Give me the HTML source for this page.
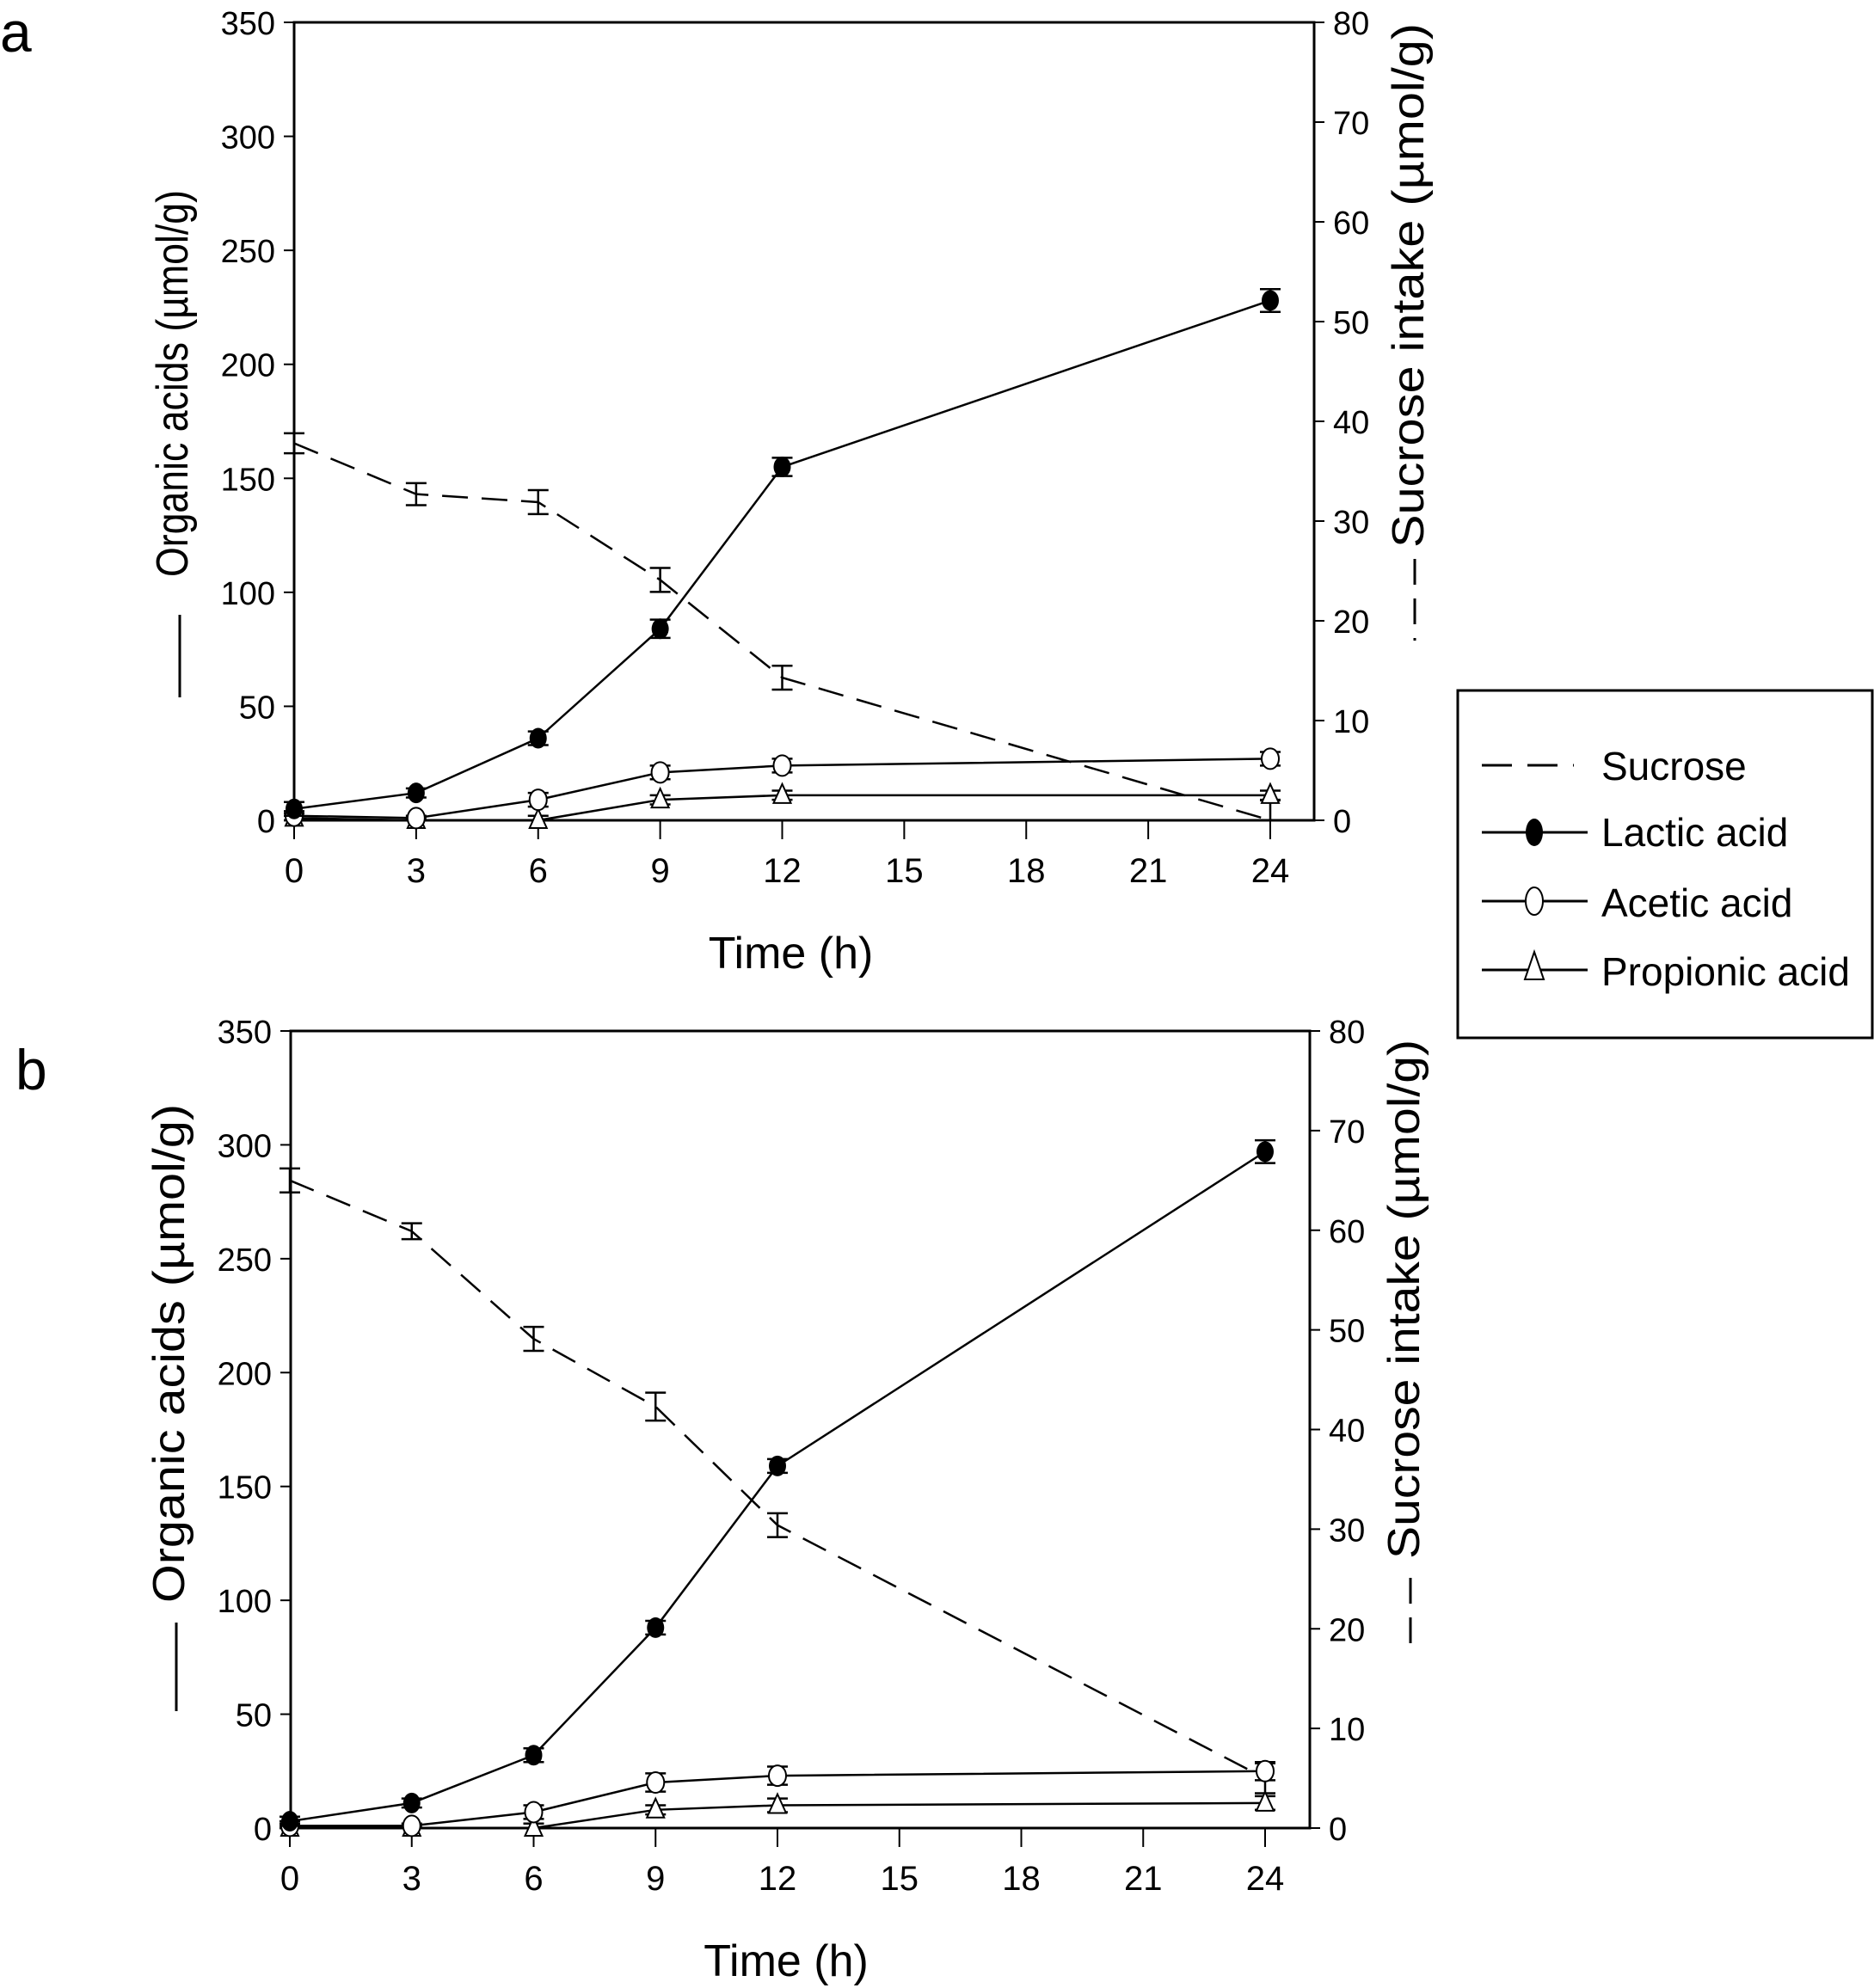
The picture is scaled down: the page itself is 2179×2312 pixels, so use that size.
<!DOCTYPE html>
<html><head><meta charset="utf-8"><style>
html,body{margin:0;padding:0;background:#fff;}
svg{display:block;font-family:"Liberation Sans",sans-serif;}
</style></head><body>
<svg id="fig" width="2179" height="2312" viewBox="0 0 2179 2312" xmlns="http://www.w3.org/2000/svg">
<text x="0" y="60" font-size="66">a</text>
<text x="18" y="1267" font-size="66">b</text>
<g id="legend">
<rect x="1695" y="803" width="482" height="404" fill="#fff" stroke="#000" stroke-width="3"/>
<g>
<line x1="1723" y1="890" x2="1830" y2="890" stroke="#000" stroke-width="3" stroke-dasharray="35,18"/>
<text x="1862" y="907" font-size="46">Sucrose</text></g>
<g>
<line x1="1723" y1="968" x2="1846" y2="968" stroke="#000" stroke-width="3"/>
<ellipse cx="1784" cy="968" rx="10" ry="16" fill="#000"/>
<text x="1862" y="984" font-size="46">Lactic acid</text></g>
<g>
<line x1="1723" y1="1048" x2="1846" y2="1048" stroke="#000" stroke-width="3"/>
<ellipse cx="1784" cy="1048" rx="10" ry="16" fill="#fff" stroke="#000" stroke-width="2"/>
<text x="1862" y="1066" font-size="46">Acetic acid</text></g>
<g>
<line x1="1723" y1="1128" x2="1846" y2="1128" stroke="#000" stroke-width="3"/>
<polygon points="1784,1107 1795,1139 1773,1139" fill="#fff" stroke="#000" stroke-width="2"/>
<text x="1862" y="1146" font-size="46">Propionic acid</text></g>
</g>
</svg>
<script>
// Panel a data
const timesA=[0,3,6,9,12,24];
const lacticA=[5,12,36,84,155,228];
const lacticErrA=[3,2,3,4,4,5];
const aceticA=[2,1,9,21,24,27];
const aceticErrA=[2,1,3,3,3,3];
const propionicA=[1,0,0,9,11,11];
const propionicErrA=[2,1,2,2,2,2];
const sucroseA=[37.8,32.7,31.9,24.1,14.3,0];
const sucroseErrA=[1,1.1,1.2,1.2,1.2,2];
// Panel b data
const timesB=[0,3,6,9,12,24];
const lacticB=[3,11,32,88,159,297];
const lacticErrB=[2,2,3,3,3,5];
const aceticB=[1,1,7,20,23,25];
const aceticErrB=[2,1,3,4,4,4];
const propionicB=[0,0,0,8,10,11];
const propionicErrB=[2,1,2,2,3,3];
const sucroseB=[65,59.9,49.1,42.3,30.4,5];
const sucroseErrB=[1.2,0.8,1.2,1.4,1.2,1.5];
// Axis ticks
const xTicks=[0,3,6,9,12,15,18,21,24];
const leftTicks=[0,50,100,150,200,250,300,350];
const rightTicks=[0,10,20,30,40,50,60,70,80];

const NS="http://www.w3.org/2000/svg";
const svg=document.getElementById('fig');
function el(tag,attrs,parent){const e=document.createElementNS(NS,tag);for(const k in attrs)e.setAttribute(k,attrs[k]);(parent||svg).appendChild(e);return e;}

function panel(cfg,d,tag){
  const g=el('g',{});
  
  
  const xs=t=>cfg.x0+(cfg.x24-cfg.x0)*t/24;
  const yl=v=>cfg.bottom-(cfg.bottom-cfg.top)*v/350;
  const yr=v=>cfg.bottom-(cfg.bottom-cfg.top)*v/80;
  const ax=el('path',{d:`M${cfg.left},${cfg.top}H${cfg.right}V${cfg.bottom}H${cfg.left}Z`,fill:'none',stroke:'#000','stroke-width':3},g);
  
  
  xTicks.forEach(t=>{
    el('line',{x1:xs(t),y1:cfg.bottom,x2:xs(t),y2:cfg.bottom+22,stroke:'#000','stroke-width':2},g);
    const tx=el('text',{x:xs(t),y:cfg.bottom+72,'font-size':40,'text-anchor':'middle'},g);
    tx.textContent=t;
    
    
  });
  leftTicks.forEach(v=>{
    el('line',{x1:cfg.left-12,y1:yl(v),x2:cfg.left,y2:yl(v),stroke:'#000','stroke-width':2},g);
    const tx=el('text',{x:cfg.left-22,y:yl(v)+14,'font-size':38,'text-anchor':'end'},g);
    tx.textContent=v;
    
    
  });
  rightTicks.forEach(v=>{
    el('line',{x1:cfg.right,y1:yr(v),x2:cfg.right+12,y2:yr(v),stroke:'#000','stroke-width':2},g);
    const tx=el('text',{x:cfg.right+22,y:yr(v)+14,'font-size':38},g);
    tx.textContent=v;
    
    
  });
  const xt=el('text',{x:(cfg.x0+cfg.x24)/2+10,y:cfg.bottom+172,'font-size':52,'text-anchor':'middle'},g);
  xt.textContent='Time (h)';
  
  
  const lt=el('text',{x:0,y:0,'font-size':52,'text-anchor':'middle',textLength:cfg.ltLen,lengthAdjust:'spacingAndGlyphs',transform:`translate(${cfg.left-124},${cfg.ltC}) rotate(-90)`},g);
  lt.textContent='Organic acids (µmol/g)';
  
  
  const ll=el('line',{x1:cfg.left-133,y1:cfg.llY1,x2:cfg.left-133,y2:cfg.llY2,stroke:'#000','stroke-width':3},g);
  
  
  const rt=el('text',{x:0,y:0,'font-size':52,'text-anchor':'middle',textLength:cfg.rtLen,lengthAdjust:'spacingAndGlyphs',transform:`translate(${cfg.right+127},${cfg.rtC}) rotate(-90)`},g);
  rt.textContent='Sucrose intake (µmol/g)';
  
  
  const rl=el('line',{x1:cfg.right+117,y1:cfg.rlY1,x2:cfg.right+117,y2:cfg.rlY2,stroke:'#000','stroke-width':3,'stroke-dasharray':'30,16'},g);
  
  

  function series(vals,errs,ys,name,kind){
    const s=el('g',{},g);
    
    
    const pts=d.t.map((t,i)=>[xs(t),ys(vals[i])]);
    const attrs={points:pts.map(p=>p.join(',')).join(' '),fill:'none',stroke:'#000','stroke-width':2.5};
    if(kind==='dash')attrs['stroke-dasharray']='30,16';
    el('polyline',attrs,s);
    d.t.forEach((t,i)=>{
      const x=xs(t),y1=ys(vals[i]+errs[i]),y2=ys(Math.max(0,vals[i]-errs[i]));
      el('path',{d:`M${x},${y1}V${y2}M${x-12},${y1}H${x+12}M${x-12},${y2}H${x+12}`,stroke:'#000','stroke-width':2.5,fill:'none'},s);
      const y=ys(vals[i]);let m;
      if(kind==='fill')m=el('ellipse',{cx:x,cy:y,rx:10,ry:12,fill:'#000'},s);
      else if(kind==='open')m=el('ellipse',{cx:x,cy:y,rx:10,ry:12,fill:'#fff',stroke:'#000','stroke-width':2},s);
      else if(kind==='tri')m=el('polygon',{points:`${x},${y-13} ${x+10},${y+9} ${x-10},${y+9}`,fill:'#fff',stroke:'#000','stroke-width':2},s);
      if(m){}
    });
  }
  series(d.suc,d.sucE,yr,'sucrose','dash');
  series(d.prop,d.propE,yl,'propionic-acid','tri');
  series(d.ace,d.aceE,yl,'acetic-acid','open');
  series(d.lac,d.lacE,yl,'lactic-acid','fill');
}
panel({left:342,right:1528,top:26,bottom:954,x0:342,x24:1477,
  ltC:446,ltLen:450,llY1:715,llY2:811,rtC:332,rtLen:610,rlY1:650,rlY2:745},
  {t:timesA,lac:lacticA,lacE:lacticErrA,ace:aceticA,aceE:aceticErrA,prop:propionicA,propE:propionicErrA,suc:sucroseA,sucE:sucroseErrA},'a');
panel({left:338,right:1523,top:1199,bottom:2126,x0:337,x24:1471,
  ltC:1574,ltLen:580,llY1:1887,llY2:1990,rtC:1511,rtLen:604,rlY1:1835,rlY2:1924},
  {t:timesB,lac:lacticB,lacE:lacticErrB,ace:aceticB,aceE:aceticErrB,prop:propionicB,propE:propionicErrB,suc:sucroseB,sucE:sucroseErrB},'b');
</script>
</body></html>
